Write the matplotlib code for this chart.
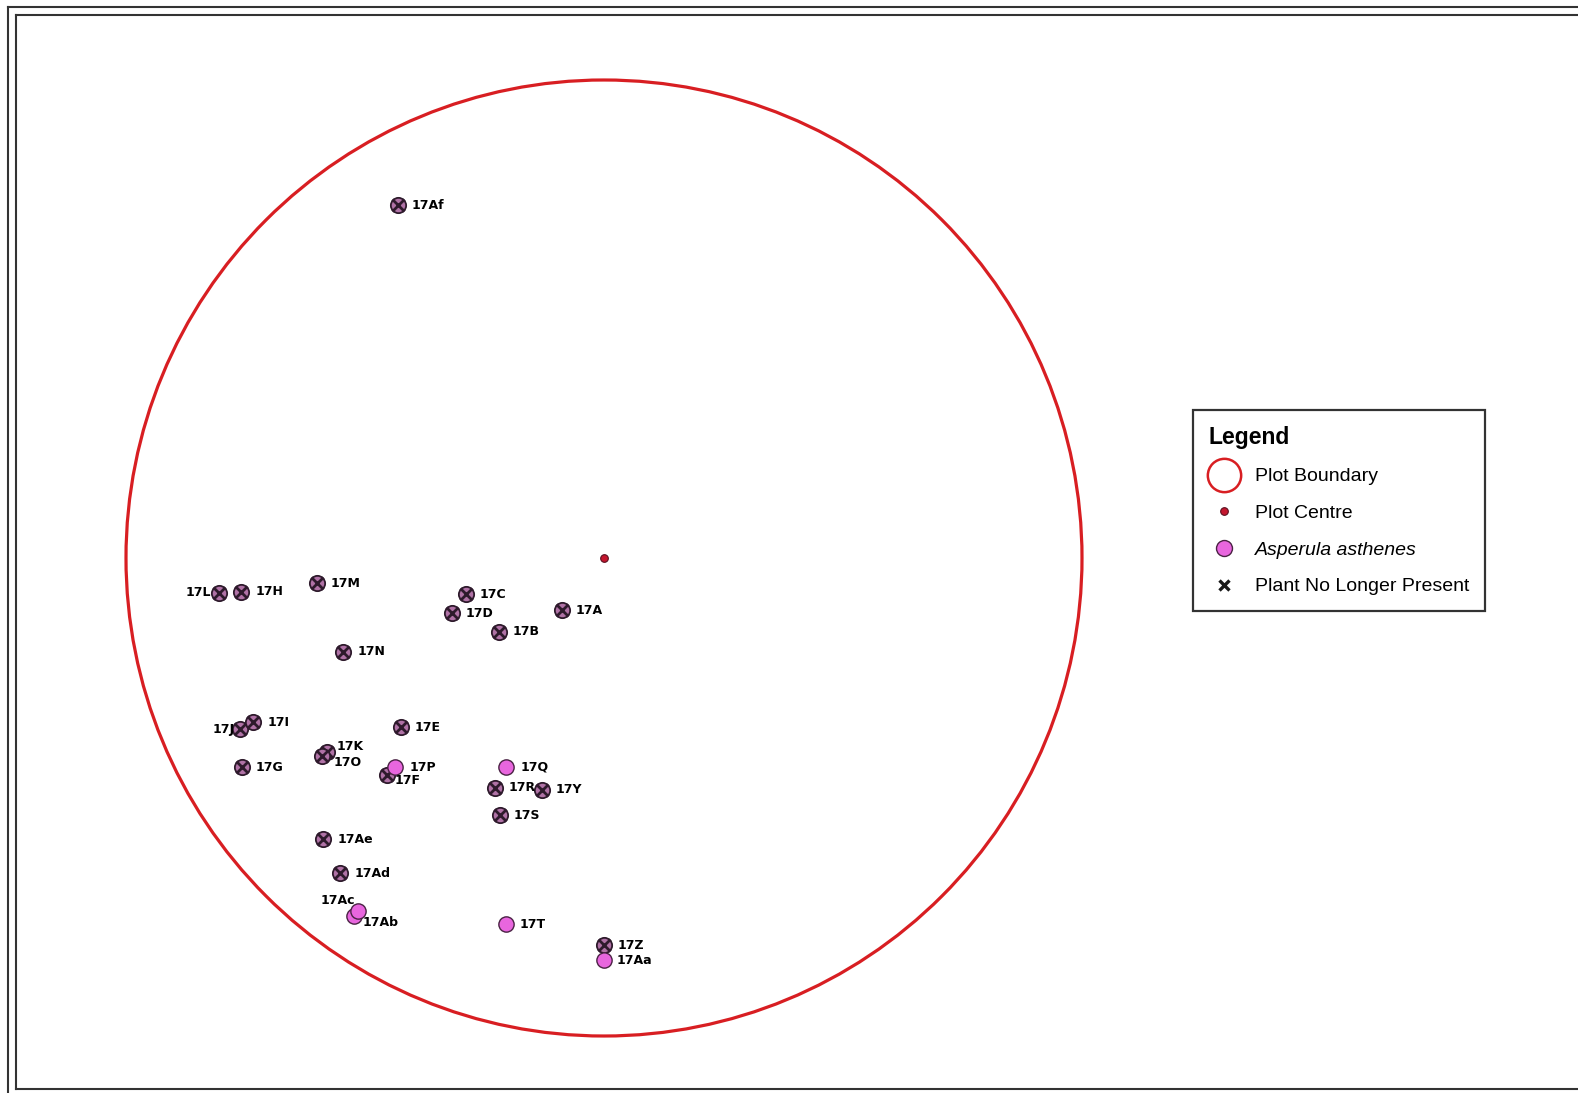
import matplotlib
matplotlib.use("Agg")
import matplotlib.pyplot as plt
from matplotlib.patches import Circle
from matplotlib.lines import Line2D

# ---- data (metres from plot centre) ----
labels = ["17Af", "17L", "17H", "17M", "17C", "17D", "17A", "17B", "17N",
          "17J", "17I", "17E", "17K", "17O", "17G", "17F", "17P", "17Q",
          "17R", "17Y", "17S", "17Ae", "17Ad", "17Ab", "17Ac", "17T",
          "17Aa", "17Z"]
x_m = [-4.30, -8.05, -7.59, -6.01, -2.89, -3.19, -0.88, -2.20, -5.45,
       -7.62, -7.34, -4.25, -5.80, -5.91, -7.58, -4.55, -4.37, -2.04,
       -2.28, -1.30, -2.18, -5.87, -5.52, -5.24, -5.14, -2.05,
       -0.01, -0.01]
y_m = [7.38, -0.73, -0.71, -0.53, -0.76, -1.16, -1.09, -1.54, -1.96,
       -3.58, -3.44, -3.54, -4.05, -4.14, -4.38, -4.54, -4.38, -4.37,
       -4.81, -4.85, -5.38, -5.88, -6.60, -7.48, -7.38, -7.66,
       -8.42, -8.10]
present = [False, False, False, False, False, False, False, False, False,
           False, False, False, False, False, False, False, True, True,
           False, False, False, False, False, True, True, True,
           True, False]
plot_radius = 10.0
plot_centre = (0.0, 0.0)

# label offsets (pixels) and alignment
label_offsets = {
    "17L": (-8, 0, "right"), "17J": (-5, 0, "right"),
    "17K": (10, 5, "left"), "17O": (12, -7, "left"),
    "17F": (8, -5, "left"), "17Ac": (-3, 10, "right"),
    "17Ab": (9, -7, "left"), "17Af": (13, 0, "left"),
    "17Aa": (13, 0, "left"),
}

W, H = 1578, 1093
fig = plt.figure(figsize=(W / 100, H / 100), dpi=100)
fig.patch.set_facecolor("white")
ax = fig.add_axes([0, 0, 1, 1])
ax.set_axis_off()
scale = 47.8
cx, cy = 604, 558
ax.set_xlim(-cx / scale, (W - cx) / scale)
ax.set_ylim(-(H - cy) / scale, cy / scale)

red = "#d81e22"
pink = "#e866de"
mauve = "#b072a6"
dark = "#2e1a2c"

ax.add_patch(Circle(plot_centre, plot_radius, fill=False, edgecolor=red,
                    linewidth=2.3, zorder=2))
ax.plot([plot_centre[0]], [plot_centre[1]], "o", ms=5.5, color="#c4162e",
        mec="#5a1020", mew=0.8, zorder=3)

for lab, xv, yv, pr in zip(labels, x_m, y_m, present):
    if pr:
        ax.plot([xv], [yv], "o", ms=11, color=pink, mec="#4a2244",
                mew=1.0, zorder=5)
    else:
        ax.plot([xv], [yv], "o", ms=11, color=mauve, mec=dark,
                mew=1.3, zorder=4)
        ax.plot([xv], [yv], "x", ms=8, color=dark, mew=2.0, zorder=4)
    dx, dy, ha = label_offsets.get(lab, (14, 0, "left"))
    ax.annotate(lab, (xv, yv), xytext=(dx, dy), textcoords="offset pixels",
                ha=ha, va="center", fontsize=9, fontweight="bold",
                color="black", family="DejaVu Sans", zorder=6)

handles = [
    Line2D([], [], ls="none", marker="o", ms=24, mfc="none", mec=red, mew=1.8),
    Line2D([], [], ls="none", marker="o", ms=5.5, color="#c4162e",
           mec="#5a1020", mew=0.8),
    Line2D([], [], ls="none", marker="o", ms=11.5, color=pink, mec="#4a2244",
           mew=1.0),
    Line2D([], [], ls="none", marker="x", ms=7, color="#1a1a1a", mew=2.4),
]
leg_labels = ["Plot Boundary", "Plot Centre", "Asperula asthenes",
              "Plant No Longer Present"]
leg = ax.legend(handles, leg_labels, title="Legend",
                loc="upper left", bbox_to_anchor=(1185.5 / W * 1.0064, 1 - 407.5 * 1.0064 / H),
                bbox_transform=fig.transFigure, borderaxespad=0,
                frameon=True, fancybox=False, edgecolor="black",
                title_fontsize=16.5, labelspacing=0.98,
                handlelength=1.6, handletextpad=0.8, borderpad=0.8,
                alignment="left",
                prop={"family": "Liberation Sans", "size": 14})
leg.get_frame().set_linewidth(1.6)
leg.get_title().set_fontweight("bold")
leg.get_title().set_family("Liberation Sans")
leg.get_texts()[2].set_fontstyle("italic")

# map frame (double border)
lc = "#333333"
def fline(x0, y0, x1, y1):
    fig.add_artist(Line2D([x0 / W, x1 / W], [1 - y0 / H, 1 - y1 / H],
                          transform=fig.transFigure, color=lc, lw=1.5))
fline(8, 7, 8, H)
fline(8, 7, W, 7)
fline(16, 15, 16, 1089)
fline(16, 15, W, 15)
fline(16, 1089, W, 1089)

fig.savefig("out.png", dpi=100, facecolor="white")
